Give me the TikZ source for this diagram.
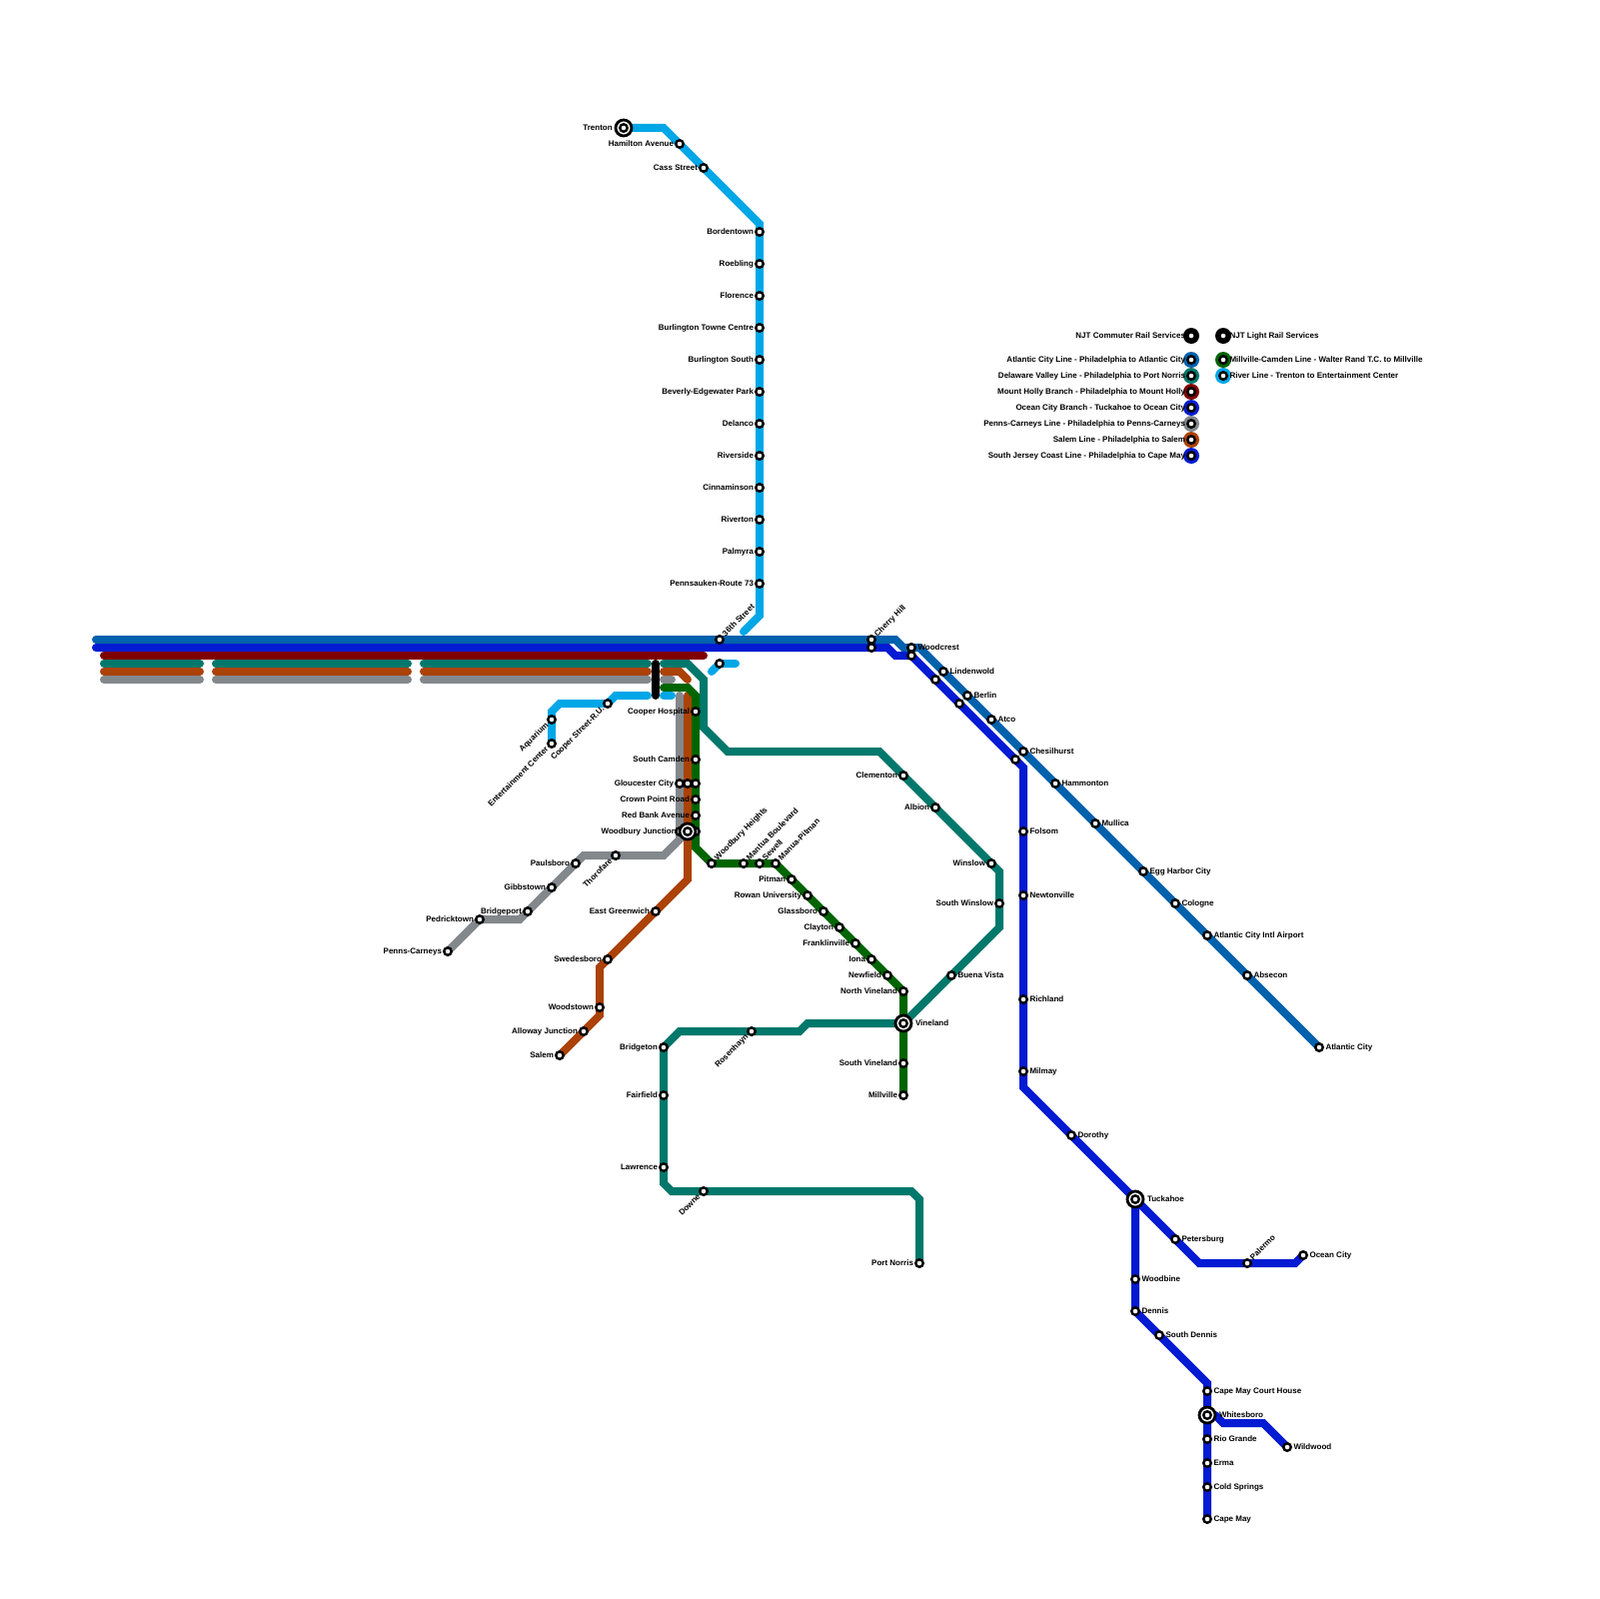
\documentclass[tikz,border=0pt]{standalone}
\usepackage{fontspec}
\setmainfont{Liberation Sans}
\definecolor{cAC}{HTML}{0061AC}
\definecolor{cOC}{HTML}{031BD2}
\definecolor{cMH}{HTML}{7E0000}
\definecolor{cDV}{HTML}{00786B}
\definecolor{cSA}{HTML}{AB4207}
\definecolor{cPC}{HTML}{83888D}
\definecolor{cMC}{HTML}{006500}
\definecolor{cRL}{HTML}{00A7E7}
\pgfdeclarelayer{lines}
\pgfsetlayers{lines,main}
\tikzset{
  railline/.style={line width=0.08cm,line cap=round,line join=miter,miter limit=4},
  stn/.style={circle,draw=black,fill=white,line width=0.024cm,inner sep=0pt,outer sep=0pt,minimum size=0.075cm},
  hubring/.style={circle,draw=black,fill=white,line width=0.028cm,inner sep=0pt,outer sep=0pt,minimum size=0.16cm},
  keydisc/.style={circle,inner sep=0pt,outer sep=0pt,minimum size=0.16cm},
  lbl/.style={inner sep=0pt,outer sep=0pt,text height=1.65pt,text depth=0.35pt,font=\fontsize{2.28}{2.8}\selectfont\bfseries,text=black}
}
% station macros: id, x, y, text
\newcommand\StaN[3]{\node[stn] (#1) at (#2,#3) {};}
\newcommand\StaL[4]{\StaN{#1}{#2}{#3}\node[lbl,anchor=east,xshift=-0.06cm] (#1-t) at (#1.center) {#4};}
\newcommand\StaR[4]{\StaN{#1}{#2}{#3}\node[lbl,anchor=west,xshift=0.065cm] (#1-t) at (#1.center) {#4};}
\newcommand\StaLL[4]{\StaN{#1}{#2}{#3}\node[lbl,anchor=east,xshift=-0.045cm,yshift=-0.045cm,rotate=45] (#1-t) at (#1.center) {#4};}
\newcommand\StaRR[4]{\StaN{#1}{#2}{#3}\node[lbl,anchor=west,xshift=0.045cm,yshift=0.045cm,rotate=45] (#1-t) at (#1.center) {#4};}
\newcommand\HubL[4]{\node[hubring] (#1-r) at (#2,#3) {};\StaN{#1}{#2}{#3}\node[lbl,anchor=east,xshift=-0.113cm] (#1-t) at (#1.center) {#4};}
\newcommand\HubR[4]{\node[hubring] (#1-r) at (#2,#3) {};\StaN{#1}{#2}{#3}\node[lbl,anchor=west,xshift=0.12cm] (#1-t) at (#1.center) {#4};}
\newcommand\KeyL[5]{\node[keydisc,fill=#2] (#1-d) at (#3,#4) {};\StaL{#1}{#3}{#4}{#5}}
\newcommand\KeyR[5]{\node[keydisc,fill=#2] (#1-d) at (#3,#4) {};\StaR{#1}{#3}{#4}{#5}}
\begin{document}
\begin{tikzpicture}[x=0.08cm,y=-0.08cm]
\useasboundingbox (0,0) rectangle (200,200);

% ---------- River Line stations
\HubL{trenton}{78}{16}{Trenton}
\StaL{hamilton}{85}{18}{Hamilton Avenue}
\StaL{cass}{88}{21}{Cass Street}
\StaL{bordentown}{95}{29}{Bordentown}
\StaL{roebling}{95}{33}{Roebling}
\StaL{florence}{95}{37}{Florence}
\StaL{towne}{95}{41}{Burlington Towne Centre}
\StaL{burlsouth}{95}{45}{Burlington South}
\StaL{beverly}{95}{49}{Beverly-Edgewater Park}
\StaL{delanco}{95}{53}{Delanco}
\StaL{riverside}{95}{57}{Riverside}
\StaL{cinna}{95}{61}{Cinnaminson}
\StaL{riverton}{95}{65}{Riverton}
\StaL{palmyra}{95}{69}{Palmyra}
\StaL{pennsauken}{95}{73}{Pennsauken-Route 73}
\StaRR{thirtysix}{90}{80}{36th Street}
\StaN{rlsmall}{90}{83}
\StaLL{cooperst}{76}{88}{Cooper Street-R.U.}
\StaLL{aquarium}{69}{90}{Aquarium}
\StaLL{entertain}{69}{93}{Entertainment Center}

% ---------- Millville-Camden / Salem / Penns stations around Woodbury
\StaL{cooperh}{87}{89}{Cooper Hospital}
\StaL{scamden}{87}{95}{South Camden}
\StaL{gloucA}{85}{98}{Gloucester City}
\StaN{gloucB}{86}{98}
\StaN{gloucC}{87}{98}
\StaL{crown}{87}{100}{Crown Point Road}
\StaL{redbank}{87}{102}{Red Bank Avenue}
\StaN{woodE}{87}{104}
\StaN{woodW}{85}{104}
\HubL{woodbury}{86}{104}{Woodbury Junction}
\StaRR{woodh}{89}{108}{Woodbury Heights}
\StaRR{mantua}{93}{108}{Mantua Boulevard}
\StaRR{sewell}{95}{108}{Sewell}
\StaRR{manua}{97}{108}{Manua-Pitman}
\StaL{pitman}{99}{110}{Pitman}
\StaL{rowan}{101}{112}{Rowan University}
\StaL{glassboro}{103}{114}{Glassboro}
\StaL{clayton}{105}{116}{Clayton}
\StaL{franklin}{107}{118}{Franklinville}
\StaL{iona}{109}{120}{Iona}
\StaL{newfield}{111}{122}{Newfield}
\StaL{nvineland}{113}{124}{North Vineland}
\HubR{vineland}{113}{128}{Vineland}
\StaL{svineland}{113}{133}{South Vineland}
\StaL{millville}{113}{137}{Millville}

% Salem
\StaL{egreenwich}{82}{114}{East Greenwich}
\StaL{swedesboro}{76}{120}{Swedesboro}
\StaL{woodstown}{75}{126}{Woodstown}
\StaL{alloway}{73}{129}{Alloway Junction}
\StaL{salem}{70}{132}{Salem}

% Penns-Carneys
\StaLL{thorofare}{77}{107}{Thorofare}
\StaL{paulsboro}{72}{108}{Paulsboro}
\StaL{gibbstown}{69}{111}{Gibbstown}
\StaL{bridgeport}{66}{114}{Bridgeport}
\StaL{pedricktown}{60}{115}{Pedricktown}
\StaL{penns}{56}{119}{Penns-Carneys}

% Delaware Valley
\StaL{clementon}{113}{97}{Clementon}
\StaL{albion}{117}{101}{Albion}
\StaL{winslow}{124}{108}{Winslow}
\StaL{swinslow}{125}{113}{South Winslow}
\StaR{buena}{119}{122}{Buena Vista}
\StaLL{rosenhayn}{94}{129}{Rosenhayn}
\StaL{bridgeton}{83}{131}{Bridgeton}
\StaL{fairfield}{83}{137}{Fairfield}
\StaL{lawrence}{83}{146}{Lawrence}
\StaLL{downe}{88}{149}{Downe}
\StaL{portnorris}{115}{158}{Port Norris}

% Atlantic City Line
\StaRR{cherry}{109}{80}{Cherry Hill}
\StaR{woodcrest}{114}{81}{Woodcrest}
\StaR{lindenwold}{118}{84}{Lindenwold}
\StaR{berlin}{121}{87}{Berlin}
\StaR{atco}{124}{90}{Atco}
\StaR{chesilhurst}{128}{94}{Chesilhurst}
\StaR{hammonton}{132}{98}{Hammonton}
\StaR{mullica}{137}{103}{Mullica}
\StaR{eggharbor}{143}{109}{Egg Harbor City}
\StaR{cologne}{147}{113}{Cologne}
\StaR{airport}{151}{117}{Atlantic City Intl Airport}
\StaR{absecon}{156}{122}{Absecon}
\StaR{atlantic}{165}{131}{Atlantic City}

% South Jersey Coast / Ocean City
\StaN{sjA}{109}{81}
\StaN{sjB}{114}{82}
\StaN{sjC}{117}{85}
\StaN{sjD}{120}{88}
\StaN{sjE}{127}{95}
\StaR{folsom}{128}{104}{Folsom}
\StaR{newtonville}{128}{112}{Newtonville}
\StaR{richland}{128}{125}{Richland}
\StaR{milmay}{128}{134}{Milmay}
\StaR{dorothy}{134}{142}{Dorothy}
\HubR{tuckahoe}{142}{150}{Tuckahoe}
\StaR{petersburg}{147}{155}{Petersburg}
\StaRR{palermo}{156}{158}{Palermo}
\StaR{oceancity}{163}{157}{Ocean City}
\StaR{woodbine}{142}{160}{Woodbine}
\StaR{dennis}{142}{164}{Dennis}
\StaR{sdennis}{145}{167}{South Dennis}
\StaR{cmch}{151}{174}{Cape May Court House}
\HubR{whitesboro}{151}{177}{Whitesboro}
\StaR{riogrande}{151}{180}{Rio Grande}
\StaR{erma}{151}{183}{Erma}
\StaR{coldsprings}{151}{186}{Cold Springs}
\StaR{capemay}{151}{190}{Cape May}
\StaR{wildwood}{161}{181}{Wildwood}

% ---------- Legend
\KeyL{kCommuter}{black}{149}{42}{NJT Commuter Rail Services}
\KeyR{kLight}{black}{153}{42}{NJT Light Rail Services}
\KeyL{kAC}{cAC}{149}{45}{Atlantic City Line - Philadelphia to Atlantic City}
\KeyL{kDV}{cDV}{149}{47}{Delaware Valley Line - Philadelphia to Port Norris}
\KeyL{kMH}{cMH}{149}{49}{Mount Holly Branch - Philadelphia to Mount Holly}
\KeyL{kOC}{cOC}{149}{51}{Ocean City Branch - Tuckahoe to Ocean City}
\KeyL{kPC}{cPC}{149}{53}{Penns-Carneys Line - Philadelphia to Penns-Carneys}
\KeyL{kSA}{cSA}{149}{55}{Salem Line - Philadelphia to Salem}
\KeyL{kSJ}{cOC}{149}{57}{South Jersey Coast Line - Philadelphia to Cape May}
\KeyR{kMC}{cMC}{153}{45}{Millville-Camden Line - Walter Rand T.C. to Millville}
\KeyR{kRL}{cRL}{153}{47}{River Line - Trenton to Entertainment Center}

% ---------- Free ends and bends
\coordinate (acS) at (12,80);   \coordinate (acB1) at (112,80);
\coordinate (acB2) at (113,81); \coordinate (acB3) at (115,81);
\coordinate (sjS) at (12,81);   \coordinate (sjB1) at (111,81);
\coordinate (sjB2) at (112,82); \coordinate (sjB3) at (128,96);
\coordinate (sjB4) at (128,136);\coordinate (sjB5) at (151,173);
\coordinate (ocB1) at (150,158);\coordinate (ocB2) at (162,158);
\coordinate (wwA) at (152,177); \coordinate (wwB) at (153,178);
\coordinate (wwC) at (158,178);
\coordinate (mhS) at (13,82);   \coordinate (mhE) at (88,82);
\foreach \n/\y in {dv/83,sa/84,pc/85}{
  \coordinate (\n1) at (13,\y); \coordinate (\n2) at (25,\y);
  \coordinate (\n3) at (27,\y); \coordinate (\n4) at (51,\y);
  \coordinate (\n5) at (53,\y); \coordinate (\n6) at (81,\y);
  \coordinate (\n7) at (83,\y);
}
\coordinate (dvB1) at (86,83); \coordinate (dvB2) at (88,85);
\coordinate (dvB3) at (88,91); \coordinate (dvB4) at (91,94);
\coordinate (dvB5) at (110,94);\coordinate (dvB6) at (125,109);
\coordinate (dvB7) at (125,116);
\coordinate (dvB8) at (101,128);\coordinate (dvB9) at (100,129);
\coordinate (dvB10) at (85,129);\coordinate (dvB11) at (83,148);
\coordinate (dvB12) at (84,149);\coordinate (dvB13) at (114,149);
\coordinate (dvB14) at (115,150);
\coordinate (saB1) at (85,84); \coordinate (saB2) at (86,85);
\coordinate (saS) at (86,87);  \coordinate (saB3) at (86,110);
\coordinate (saB4) at (75,121);\coordinate (saB5) at (75,127);
\coordinate (pcE) at (84,85);  \coordinate (pcS) at (85,87);
\coordinate (pcB1) at (85,105);\coordinate (pcB2) at (83,107);
\coordinate (pcB3) at (73,107);\coordinate (pcB4) at (65,115);
\coordinate (mcS) at (83,86);  \coordinate (mcB1) at (86,86);
\coordinate (mcB2) at (87,87); \coordinate (mcB3) at (87,106);
\coordinate (rlB1) at (83,16); \coordinate (rlB2) at (95,28);
\coordinate (rlB3) at (95,77); \coordinate (rlE1) at (93,79);
\coordinate (rlS2) at (89,84); \coordinate (rlE2) at (92,83);
\coordinate (rlS3) at (83,87); \coordinate (rlE3) at (84,87);
\coordinate (rlS4) at (81,87); \coordinate (rlB4) at (77,87);
\coordinate (rlB5) at (70,88); \coordinate (rlB6) at (69,89);
\coordinate (blkA) at (82,83); \coordinate (blkB) at (82,87);

\begin{pgfonlayer}{lines}
% South Jersey Coast
\draw[railline,cOC] (sjS) -- (sjB1) -- (sjB2) -- (sjB.center) -- (sjB3) -- (sjB4)
  -- (tuckahoe.center) -- (dennis.center) -- (sjB5) -- (capemay.center);
% Ocean City Branch
\draw[railline,cOC] (tuckahoe.center) -- (ocB1) -- (ocB2) -- (oceancity.center);
% Cape May branch to Wildwood
\draw[railline,cOC] (wwA) -- (wwB) -- (wwC) -- (wildwood.center);
% Atlantic City Line
\draw[railline,cAC] (acS) -- (acB1) -- (acB2) -- (acB3) -- (atlantic.center);
% Mount Holly
\draw[railline,cMH] (mhS) -- (mhE);
% Delaware Valley
\draw[railline,cDV] (dv1) -- (dv2);
\draw[railline,cDV] (dv3) -- (dv4);
\draw[railline,cDV] (dv5) -- (dv6);
\draw[railline,cDV] (dv7) -- (dvB1) -- (dvB2) -- (dvB3) -- (dvB4) -- (dvB5) -- (dvB6) -- (dvB7) -- (vineland.center);
\draw[railline,cDV] (vineland.center) -- (dvB8) -- (dvB9) -- (dvB10) -- (bridgeton.center) -- (dvB11) -- (dvB12) -- (dvB13) -- (dvB14) -- (portnorris.center);
% Penns-Carneys
\draw[railline,cPC] (pc1) -- (pc2);
\draw[railline,cPC] (pc3) -- (pc4);
\draw[railline,cPC] (pc5) -- (pc6);
\draw[railline,cPC] (pc7) -- (pcE);
\draw[railline,cPC] (pcS) -- (pcB1) -- (pcB2) -- (pcB3) -- (pcB4) -- (pedricktown.center) -- (penns.center);
% Salem
\draw[railline,cSA] (sa1) -- (sa2);
\draw[railline,cSA] (sa3) -- (sa4);
\draw[railline,cSA] (sa5) -- (sa6);
\draw[railline,cSA] (sa7) -- (saB1) -- (saB2);
\draw[railline,cSA] (saS) -- (saB3) -- (saB4) -- (saB5) -- (salem.center);
% Millville-Camden
\draw[railline,cMC] (mcS) -- (mcB1) -- (mcB2) -- (mcB3) -- (woodh.center) -- (manua.center) -- (nvineland.center) -- (millville.center);
% River Line
\draw[railline,cRL] (trenton.center) -- (rlB1) -- (rlB2) -- (rlB3) -- (rlE1);
\draw[railline,cRL] (rlS2) -- (rlsmall.center) -- (rlE2);
\draw[railline,cRL] (rlS3) -- (rlE3);
\draw[railline,cRL] (rlS4) -- (rlB4) -- (cooperst.center) -- (rlB5) -- (rlB6) -- (entertain.center);
% Black bar
\draw[railline,black] (blkA) -- (blkB);
\end{pgfonlayer}
\end{tikzpicture}
\end{document}
